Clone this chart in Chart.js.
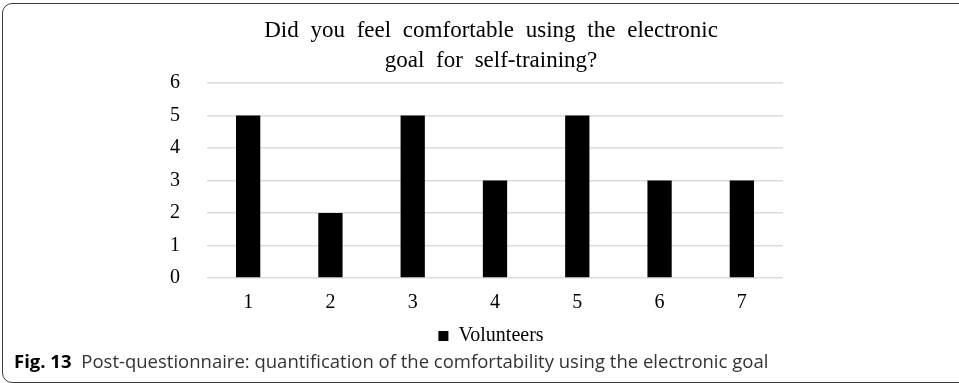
<!DOCTYPE html>
<html>
<head>
<meta charset="utf-8">
<script src="https://cdn.jsdelivr.net/npm/chart.js@4/dist/chart.umd.min.js"></script>
<style>
  html, body { margin: 0; padding: 0; background: #fff; width: 959px; height: 383px; overflow: hidden; }
  #wrap { position: relative; width: 959px; height: 383px; }
  #chart { position: absolute; left: 0; top: 0; }
  #frame {
    position: absolute; left: 2px; top: 3px; width: 968px; height: 380px;
    border: 1px solid #3c3c3c; border-radius: 10px; box-sizing: border-box; pointer-events: none;
  }
  #caption {
    position: absolute; left: 14px; top: 348px; white-space: nowrap;
    font-family: "Open Sans", "Noto Sans", sans-serif; font-size: 18.5px; color: #333;
  }
  #caption b { color: #000; font-weight: 700; margin-right: 5px; }
</style>
</head>
<body>
<div id="wrap">
  <canvas id="chart" width="959" height="383"></canvas>
  <div id="frame"></div>
  <div id="caption"><b>Fig. 13</b> Post-questionnaire: quantification of the comfortability using the electronic goal</div>
</div>
<script>
// Answers per option (1-7) of the post-questionnaire
const categories = ['1', '2', '3', '4', '5', '6', '7'];
const volunteers = [5, 2, 5, 3, 5, 3, 3];
const seriesName = 'Volunteers';
const yMin = 0;
const yMax = 6;
const yStep = 1;
const chartTitle = ['Did you feel comfortable using the electronic', 'goal for self-training?'];

const serif = '"Liberation Serif", "Times New Roman", serif';

// Wider gaps between words, as in the typeset title
const wordGap = {
  id: 'wordGap',
  beforeDraw(chart) { chart.ctx.wordSpacing = '6px'; }
};

new Chart(document.getElementById('chart'), {
  type: 'bar',
  data: {
    labels: categories,
    datasets: [{
      label: seriesName,
      data: volunteers,
      backgroundColor: '#000',
      borderColor: '#000',
      borderWidth: 0,
      categoryPercentage: 1,
      barPercentage: 0.295
    }]
  },
  plugins: [wordGap],
  options: {
    responsive: false,
    animation: false,
    devicePixelRatio: 1,
    layout: { padding: { left: 23, right: 0, top: 0, bottom: 27 } },
    plugins: {
      tooltip: { enabled: false },
      title: {
        display: true,
        text: chartTitle,
        color: '#000',
        font: { family: serif, size: 23, weight: 'normal', lineHeight: 30 / 23 },
        padding: { top: 16, bottom: 7 }
      },
      legend: {
        display: true,
        position: 'bottom',
        labels: {
          color: '#000',
          font: { family: serif, size: 20 },
          boxWidth: 10,
          boxHeight: 10,
          padding: 15
        }
      }
    },
    scales: {
      x: {
        grid: { display: false, drawTicks: false },
        border: { display: false },
        ticks: { color: '#000', font: { family: serif, size: 20 }, padding: 13 },
        afterFit: (s) => { s.height = 33; }
      },
      y: {
        position: 'left',
        min: yMin,
        max: yMax,
        ticks: { stepSize: yStep, color: '#000', font: { family: serif, size: 20 }, padding: 27 },
        grid: { color: '#dcdcdc', lineWidth: 1.5, drawTicks: false },
        border: { display: false },
        afterFit: (s) => { s.width = 184; }
      },
      yRight: {
        position: 'right',
        display: true,
        grid: { display: false },
        border: { display: false },
        ticks: { display: false },
        afterFit: (s) => { s.width = 176; }
      }
    }
  }
});
</script>
</body>
</html>
